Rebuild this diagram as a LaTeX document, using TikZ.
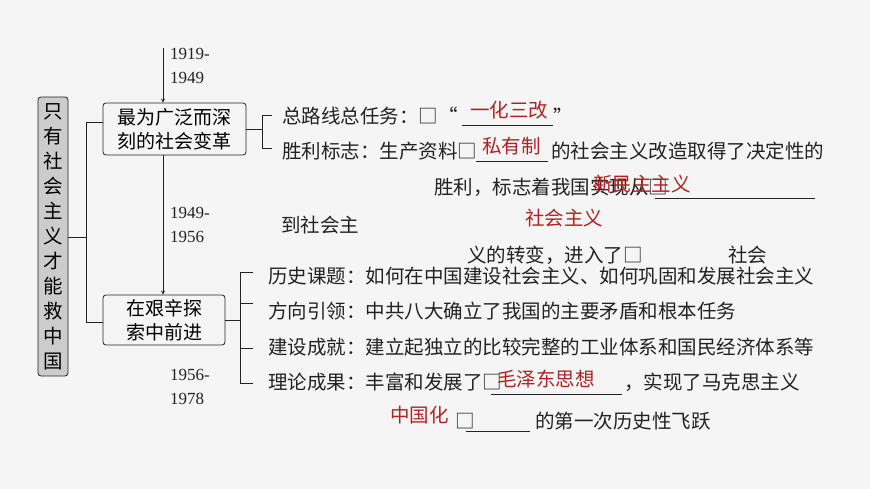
\documentclass[tikz,border=0pt]{standalone}
\usepackage{fontspec}
\setmainfont{Liberation Serif}
\newfontfamily\cjk{Noto Sans CJK SC}
\usetikzlibrary{positioning}
\definecolor{ansred}{RGB}{178,34,34}
\definecolor{inkgray}{RGB}{34,34,34}
\tikzset{
  box/.style = {draw=inkgray, rounded corners=3pt, line width=0.8pt, align=center,
    inner sep=0pt, font=\cjk\fontsize{19}{24}\selectfont},
  txt/.style = {anchor=west, inner sep=0pt, text=inkgray, font=\cjk\fontsize{19.5}{24}\selectfont},
  ans/.style = {anchor=west, inner sep=0pt, text=ansred, font=\cjk\fontsize{19.5}{24}\selectfont},
  year/.style = {anchor=west, align=left, inner sep=0pt, text=inkgray, font=\fontsize{17}{24}\selectfont},
  line/.style = {draw=inkgray, line width=0.8pt},
  blank/.style = {draw=inkgray, line width=0.7pt}
}
\begin{document}
\begin{tikzpicture}[x=1pt, y=-1pt]
    \useasboundingbox (0,0) rectangle (870,489);
    \fill[white!96!black] (0,0) rectangle (870,489);
    % Place nodes
    \node [box, fill=black!20, minimum width=30, minimum height=279] (root) at (53,236.5) {};
    \node [align=center, inner sep=0pt, font=\cjk\fontsize{19.5}{25}\selectfont] (root t) at (root.center)
        {只\\有\\社\\会\\主\\义\\才\\能\\救\\中\\国};
    \node [box, minimum width=143, minimum height=52] (reform) at (174.5,129) {最为广泛而深\\刻的社会变革};
    \node [box, minimum width=122, minimum height=50] (explore) at (164,320) {在艰辛探\\索中前进};
    \coordinate (start) at (163,48);
    \node [year] (y1) at (170,66) {1919-\\1949};
    \node [year] (y2) at (170,225) {1949-\\1956};
    \node [year] (y3) at (170,387) {1956-\\1978};
    % first branch
    \node [txt] (route) at (282,116) {总路线总任务：□“};
    \node [ans] (route a) at (470,110) {一化三改};
    \node [txt] (route q) at (553,116) {”};
    \node [txt] (win) at (282,151) {胜利标志：生产资料□};
    \node [ans] (win a) at (482,146) {私有制};
    \node [txt] (win b) at (551,151) {的社会主义改造取得了决定性的};
    \node [txt] (win c) at (434,187) {胜利，标志着我国实现从□};
    \node [ans] (win ca) at (593,184) {新民主主义};
    \node [txt] (win d) at (281,225) {到社会主};
    \node [ans] (win da) at (525,218) {社会主义};
    \node [txt] (win e) at (467,255) {义的转变，进入了□};
    \node [txt] (win f) at (728,255) {社会};
    % second branch
    \node [txt] (topic) at (268,276) {历史课题：如何在中国建设社会主义、如何巩固和发展社会主义};
    \node [txt] (lead) at (268,311) {方向引领：中共八大确立了我国的主要矛盾和根本任务};
    \node [txt] (build) at (268,347) {建设成就：建立起独立的比较完整的工业体系和国民经济体系等};
    \node [txt] (theory) at (268,382) {理论成果：丰富和发展了□};
    \node [ans] (theory a) at (497,379) {毛泽东思想};
    \node [txt] (theory b) at (624,382) {，实现了马克思主义};
    \node [ans] (theory c) at (390,415) {中国化};
    \node [txt] (theory d) at (455,421) {□};
    \node [txt] (theory e) at (535,421) {的第一次历史性飞跃};
    % Draw edges
    \path [line] (root.east |- 0,237) -- (86,237);
    \path [line] (86,122) -- (86,322);
    \path [line] (86,122) -- (reform.west |- 0,122);
    \path [line] (86,322) -- (explore.west |- 0,322);
    \path [line, ->, >=stealth] (start) -- (reform.north -| start);
    \path [line, ->, >=stealth] (reform.south -| start) -- (explore.north -| start);
    \path [line] (reform.east) -- (262,129);
    \path [line] (272,115) -- (262,115) -- (262,148) -- (272,148);
    \path [line] (explore.east) -- (240,320);
    \path [line] (253,272) -- (240,272) -- (240,383) -- (253,383);
    \path [line] (240,303) -- (253,303);
    \path [line] (240,348) -- (253,348);
    % blanks
    \path [blank] (462,125) -- (553,125);
    \path [blank] (476,161) -- (548,161);
    \path [blank] (655,198) -- (815,198);
    \path [blank] (491,394) -- (622,394);
    \path [blank] (466,431) -- (530,431);
\end{tikzpicture}
\end{document}
